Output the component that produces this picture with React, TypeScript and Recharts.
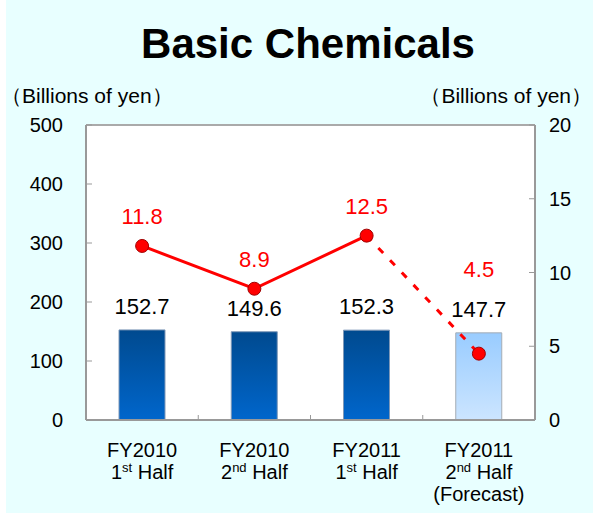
import React from 'react';
import { ComposedChart, Bar, Line, XAxis, YAxis, CartesianGrid, Cell, LabelList, ReferenceLine } from 'recharts';

const fiscalYears = ['FY2010', 'FY2010', 'FY2011', 'FY2011'];
const halfNumbers = ['1', '2', '1', '2'];
const halfSuffixes = ['st', 'nd', 'st', 'nd'];
const notes = ['', '', '', '(Forecast)'];
const netSales = [152.7, 149.6, 152.3, 147.7];
const operatingIncome = [11.8, 8.9, 12.5, 4.5];
const isForecast = [false, false, false, true];
const leftTicks = [0, 100, 200, 300, 400, 500];
const rightTicks = [0, 5, 10, 15, 20];

const data = fiscalYears.map((fy, i) => ({
  key: String(i),
  sales: netSales[i],
  solid: !isForecast[i] ? operatingIncome[i] : null,
  dashed: isForecast[i] || isForecast[i + 1] ? operatingIncome[i] : null,
  forecast: isForecast[i],
}));

const FONT = 'Liberation Sans, Arial, Helvetica, sans-serif';
const RED = '#FF0000';

const XTick = (props: any) => {
  const { x, y, payload, index } = props;
  const i = index ?? Number(payload.value);
  const off = payload && typeof payload.offset === 'number' ? payload.offset : 0;
  return (
    <g>
      {i < fiscalYears.length - 1 && off > 0 && (
        <line x1={x + off} x2={x + off} y1={y} y2={y - 5} stroke="#999" strokeWidth={1} />
      )}
      <text x={x} y={y + 37} textAnchor="middle" fontSize={20} fill="#000" fontFamily={FONT}>
        {fiscalYears[i]}
      </text>
      <text x={x} y={y + 59} textAnchor="middle" fontSize={20} fill="#000" fontFamily={FONT}>
        <tspan>{halfNumbers[i]}</tspan>
        <tspan fontSize={13} dy={-7}>{halfSuffixes[i]}</tspan>
        <tspan dy={7}>{' Half'}</tspan>
      </text>
      {notes[i] && (
        <text x={x} y={y + 81} textAnchor="middle" fontSize={20} fill="#000" fontFamily={FONT}>
          {notes[i]}
        </text>
      )}
    </g>
  );
};

const SolidDot = (props: any) => {
  const { cx, cy } = props;
  if (cx == null || cy == null || props.value == null) return <g />;
  return <circle cx={cx} cy={cy} r={6.5} fill={RED} stroke="#A00000" strokeWidth={1} />;
};

const ForecastDot = (props: any) => {
  const { cx, cy, payload } = props;
  if (cx == null || cy == null || !payload || !payload.forecast) return <g />;
  return <circle cx={cx} cy={cy} r={6.5} fill={RED} stroke="#A00000" strokeWidth={1} />;
};

const ForecastLabel = (props: any) => {
  const { x, y, value, index } = props;
  if (!isForecast[index] || value == null) return null;
  return (
    <text x={x} y={y - 77} textAnchor="middle" fontSize={22} fill={RED} fontFamily={FONT}>
      {value}
    </text>
  );
};

export default function App() {
  return (
    <div style={{ position: 'absolute', left: 0, top: 0, width: 593, height: 513, background: '#fff', fontFamily: FONT }}>
      <div style={{ position: 'absolute', left: 6, top: 0, width: 587, height: 513, background: '#E8FFFF' }} />
      <ComposedChart
        width={593}
        height={513}
        data={data}
        margin={{ top: 125, right: 0, bottom: 0, left: 0 }}
        style={{ position: 'absolute', left: 0, top: 0 }}
      >
        <defs>
          <linearGradient id="gradDark" x1="0" y1="0" x2="0" y2="1">
            <stop offset="0%" stopColor="#004A8F" />
            <stop offset="100%" stopColor="#0066CC" />
          </linearGradient>
          <linearGradient id="gradLight" x1="0" y1="0" x2="0" y2="1">
            <stop offset="0%" stopColor="#99CCFF" />
            <stop offset="100%" stopColor="#CCE5FF" />
          </linearGradient>
        </defs>
        <CartesianGrid fill="#FFFFFF" stroke="none" horizontal={false} vertical={false} yAxisId="left" />
        <XAxis
          dataKey="key"
          height={93}
          tick={<XTick />}
          tickLine={false}
          tickSize={0}
          tickMargin={0}
          axisLine={{ stroke: '#999', strokeWidth: 2 }}
          interval={0}
        />
        <YAxis
          yAxisId="left"
          orientation="left"
          width={86}
          domain={[0, 500]}
          ticks={leftTicks}
          tickSize={-6}
          tickMargin={29}
          axisLine={{ stroke: '#999', strokeWidth: 2 }}
          tickLine={{ stroke: '#999' }}
          tick={{ fill: '#000', fontSize: 20, fontFamily: FONT }}
        />
        <YAxis
          yAxisId="right"
          orientation="right"
          width={58}
          domain={[0, 20]}
          ticks={rightTicks}
          tickSize={-6}
          tickMargin={20}
          axisLine={{ stroke: '#999', strokeWidth: 2 }}
          tickLine={{ stroke: '#999' }}
          tick={{ fill: '#000', fontSize: 20, fontFamily: FONT, textAnchor: 'start' }}
        />
        <ReferenceLine yAxisId="left" y={500} stroke="#AAAAAA" strokeWidth={2} />
        <Bar yAxisId="left" dataKey="sales" barSize={46} isAnimationActive={false}>
          {data.map((d, i) => (
            <Cell
              key={i}
              fill={d.forecast ? 'url(#gradLight)' : 'url(#gradDark)'}
              stroke={d.forecast ? '#A4ACB4' : '#7E98B8'}
              strokeWidth={1}
            />
          ))}
          <LabelList dataKey="sales" position="top" offset={16} fill="#000" fontSize={22} fontFamily={FONT} />
        </Bar>
        <Line
          yAxisId="right"
          dataKey="dashed"
          stroke={RED}
          strokeWidth={3}
          strokeDasharray="7 10"
          dot={<ForecastDot />}
          activeDot={false}
          connectNulls={false}
          isAnimationActive={false}
        >
          <LabelList dataKey="dashed" content={<ForecastLabel />} />
        </Line>
        <Line
          yAxisId="right"
          dataKey="solid"
          stroke={RED}
          strokeWidth={3}
          dot={<SolidDot />}
          activeDot={false}
          connectNulls={false}
          isAnimationActive={false}
        >
          <LabelList dataKey="solid" position="top" offset={22} fill={RED} fontSize={22} fontFamily={FONT} />
        </Line>
      </ComposedChart>
      <div
        style={{
          position: 'absolute', left: 0, top: 19, width: 616, textAlign: 'center',
          fontSize: 42, fontWeight: 'bold', color: '#000', lineHeight: '50px', whiteSpace: 'nowrap',
        }}
      >
        Basic Chemicals
      </div>
      <div style={{ position: 'absolute', left: 1, top: 84, fontSize: 21, color: '#000', lineHeight: '24px', whiteSpace: 'nowrap' }}>
        （Billions of yen）
      </div>
      <div style={{ position: 'absolute', right: 1, top: 84, fontSize: 21, color: '#000', lineHeight: '24px', whiteSpace: 'nowrap' }}>
        （Billions of yen）
      </div>
    </div>
  );
}
